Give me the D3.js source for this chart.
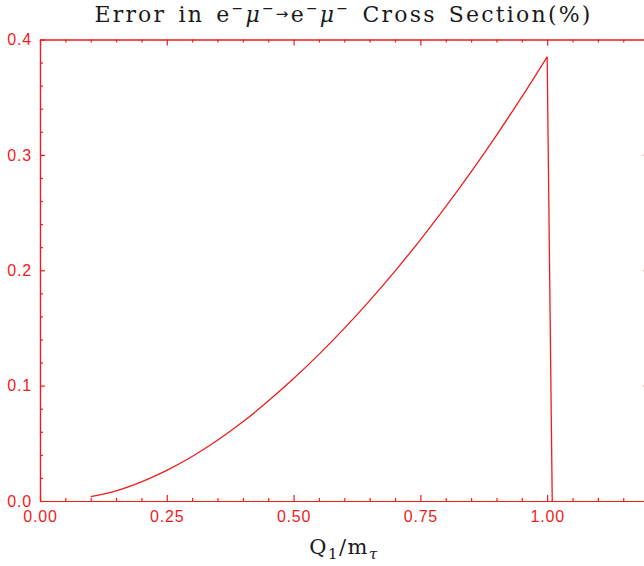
<!DOCTYPE html>
<html>
<head>
<meta charset="utf-8">
<script src="https://cdn.jsdelivr.net/npm/d3@7"></script>
<style>
  body { margin: 0; background: #fff; }
  svg { display: block; }
</style>
</head>
<body>
<script>
// values
var ratio = [0.10, 0.15, 0.20, 0.25, 0.30, 0.35, 0.40, 0.45, 0.50, 0.55,
             0.60, 0.65, 0.70, 0.75, 0.80, 0.85, 0.90, 0.95, 1.00];
var errPct = [0.0038, 0.0088, 0.0166, 0.0266, 0.0386, 0.0526, 0.0686, 0.0866, 0.1061, 0.1271,
              0.1496, 0.1737, 0.1993, 0.2264, 0.2551, 0.2853, 0.3170, 0.3502, 0.385];
// the drop after the peak
var dropX = [1.00, 1.01];
var dropY = [0.385, 0.0];
var xMajor = [0, 0.25, 0.5, 0.75, 1.0];
var yMajor = [0, 0.1, 0.2, 0.3, 0.4];

var W = 644, H = 566;
var red = "#f01c1c";
var svg = d3.select("body").append("svg").attr("width", W).attr("height", H);

var x = d3.scaleLinear().domain([0, 1.2]).range([40, 648.6]);
var y = d3.scaleLinear().domain([0, 0.4]).range([501, 39.5]);

var xMinor = d3.range(0, 1.2001, 0.05).filter(function(v) { return Math.abs(v / 0.25 - Math.round(v / 0.25)) > 1e-6; });
var yMinor = d3.range(0, 0.4001, 0.02).filter(function(v) { return Math.abs(v / 0.1 - Math.round(v / 0.1)) > 1e-6; });

function style(g) {
  g.selectAll("path,line").attr("stroke", red).attr("stroke-width", 1.2);
  g.selectAll("text").attr("fill", red).style("font-family", "'Liberation Sans', Arial, sans-serif")
    .style("font-size", "16px").style("letter-spacing", "0.8px");
}

// bottom axis
svg.append("g").attr("transform", "translate(0," + y(0) + ")")
  .call(d3.axisBottom(x).tickValues(xMajor).tickFormat(d3.format(".2f")).tickSizeInner(-6).tickSizeOuter(0).tickPadding(10))
  .call(style);
svg.append("g").attr("transform", "translate(0," + y(0) + ")")
  .call(d3.axisBottom(x).tickValues(xMinor).tickFormat("").tickSizeInner(-3).tickSizeOuter(0))
  .call(style);
// top axis
svg.append("g").attr("transform", "translate(0," + y(0.4) + ")")
  .call(d3.axisTop(x).tickValues(xMajor).tickFormat("").tickSizeInner(-6).tickSizeOuter(0))
  .call(style);
svg.append("g").attr("transform", "translate(0," + y(0.4) + ")")
  .call(d3.axisTop(x).tickValues(xMinor).tickFormat("").tickSizeInner(-3).tickSizeOuter(0))
  .call(style);
// left axis
svg.append("g").attr("transform", "translate(" + x(0) + ",0)")
  .call(d3.axisLeft(y).tickValues(yMajor).tickFormat(d3.format(".1f")).tickSizeInner(-5).tickSizeOuter(0).tickPadding(8))
  .call(style);
svg.append("g").attr("transform", "translate(" + x(0) + ",0)")
  .call(d3.axisLeft(y).tickValues(yMinor).tickFormat("").tickSizeInner(-3).tickSizeOuter(0))
  .call(style);
// right axis (just off the picture)
svg.append("g").attr("transform", "translate(" + x(1.2) + ",0)")
  .call(d3.axisRight(y).tickValues(yMajor).tickFormat("").tickSizeInner(-5).tickSizeOuter(0))
  .call(style);

// curve
var pts = ratio.map(function(r, i) { return [r, errPct[i]]; });
var drop = dropX.map(function(r, i) { return [r, dropY[i]]; });
var smooth = d3.line().curve(d3.curveMonotoneX)
  .x(function(d) { return x(d[0]); }).y(function(d) { return y(d[1]); });
var straight = d3.line()
  .x(function(d) { return x(d[0]); }).y(function(d) { return y(d[1]); });
svg.append("path").datum(pts)
  .attr("fill", "none").attr("stroke", red).attr("stroke-width", 1.3)
  .attr("d", smooth);
svg.append("path").datum(drop)
  .attr("fill", "none").attr("stroke", red).attr("stroke-width", 1.3)
  .attr("d", straight);

// title
var serif = "'DejaVu Serif', 'Liberation Serif', serif";
var title = svg.append("text")
  .attr("x", 343.5).attr("y", 22)
  .attr("text-anchor", "middle")
  .style("font-family", serif).style("font-size", "22px")
  .style("letter-spacing", "2.2px").style("word-spacing", "3px")
  .attr("fill", "#1a1a1a");
title.append("tspan").text("Error in e");
title.append("tspan").attr("dy", -9).style("font-size", "14px").text("\u2212");
title.append("tspan").attr("dy", 9).style("font-style", "italic").text("\u03bc");
title.append("tspan").attr("dy", -9).style("font-size", "14px").text("\u2212");
title.append("tspan").attr("dy", 6).style("font-size", "15px").style("font-family", "'DejaVu Sans', sans-serif").text("\u2192");
title.append("tspan").attr("dy", 3).text("e");
title.append("tspan").attr("dy", -9).style("font-size", "14px").text("\u2212");
title.append("tspan").attr("dy", 9).style("font-style", "italic").text("\u03bc");
title.append("tspan").attr("dy", -9).style("font-size", "14px").text("\u2212");
title.append("tspan").attr("dy", 9).text(" Cross Section(%)");

// x label
var xl = svg.append("text")
  .attr("x", 344).attr("y", 554)
  .attr("text-anchor", "middle")
  .style("font-family", serif).style("font-size", "21px")
  .style("letter-spacing", "1.5px")
  .attr("fill", "#1a1a1a");
xl.append("tspan").text("Q");
xl.append("tspan").attr("dy", 5).style("font-size", "15px").text("1");
xl.append("tspan").attr("dy", -5).text("/m");
xl.append("tspan").attr("dy", 5).style("font-size", "15px").style("font-style", "italic").text("\u03c4");
</script>
</body>
</html>
